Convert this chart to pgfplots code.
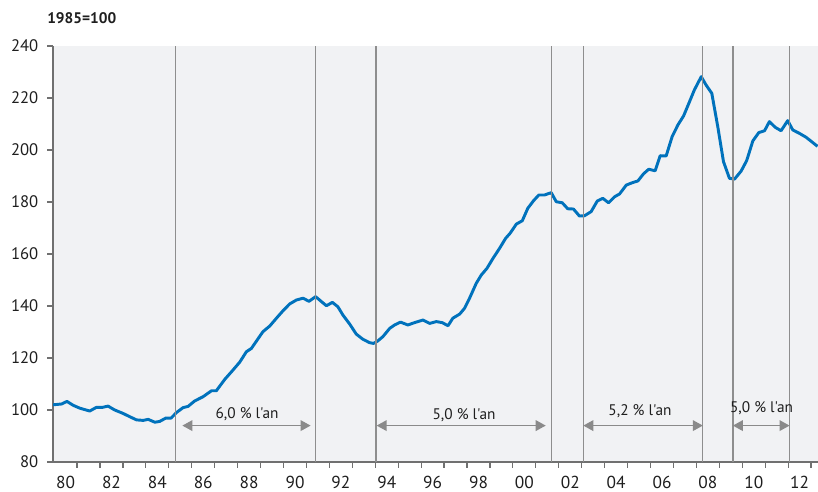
\documentclass[border=0pt]{standalone}
\usepackage{fontspec}
\setmainfont{PT Sans}[Ligatures=TeXOff]
\usepackage{pgfplots}
\pgfplotsset{compat=1.18}
\usetikzlibrary{arrows.meta}
\definecolor{lineblue}{HTML}{0072BC}
\definecolor{bggray}{HTML}{F1F2F4}
\definecolor{axgray}{HTML}{707070}
\definecolor{vgray}{HTML}{8E8E8E}
\definecolor{agray}{HTML}{8A8A8A}
\definecolor{txt}{HTML}{1E1E1E}

\pgfplotstableread{
year value
1979.95 102.0
1980.32 102.3
1980.56 103.3
1980.83 101.8
1981.12 100.7
1981.55 99.6
1981.84 101.0
1982.10 101.0
1982.35 101.5
1982.64 100.0
1983.00 98.7
1983.30 97.4
1983.59 96.2
1983.88 96.0
1984.10 96.4
1984.39 95.3
1984.60 95.6
1984.87 96.9
1985.10 96.9
1985.33 99.0
1985.62 100.9
1985.84 101.4
1986.13 103.5
1986.49 105.1
1986.86 107.4
1987.07 107.4
1987.44 111.8
1987.80 115.4
1988.09 118.4
1988.38 122.4
1988.60 123.7
1989.10 130.1
1989.40 132.3
1989.69 135.3
1989.98 138.2
1990.27 140.8
1990.56 142.3
1990.85 143.0
1991.11 141.8
1991.40 143.6
1991.65 141.7
1991.87 140.1
1992.13 141.4
1992.37 139.7
1992.59 136.5
1992.88 133.1
1993.17 129.2
1993.46 127.2
1993.75 125.9
1993.92 125.6
1994.10 126.5
1994.33 128.2
1994.63 131.4
1994.84 132.7
1995.10 133.8
1995.42 132.7
1995.71 133.6
1996.08 134.6
1996.37 133.3
1996.66 134.0
1996.92 133.6
1997.17 132.4
1997.38 135.3
1997.68 136.9
1997.89 139.1
1998.11 143.0
1998.40 148.7
1998.62 151.9
1998.87 154.5
1999.13 158.3
1999.42 162.2
1999.68 166.0
1999.88 168.0
2000.15 171.5
2000.41 172.8
2000.65 177.6
2000.90 180.5
2001.13 182.7
2001.38 182.7
2001.67 183.6
2001.89 180.1
2002.15 179.7
2002.39 177.4
2002.64 177.3
2002.90 174.6
2003.12 174.7
2003.41 176.3
2003.68 180.4
2003.92 181.4
2004.17 179.7
2004.43 182.0
2004.65 183.1
2004.94 186.5
2005.20 187.4
2005.45 188.1
2005.69 190.8
2005.92 192.6
2006.20 192.0
2006.42 197.8
2006.68 197.7
2006.94 205.1
2007.19 209.6
2007.44 213.1
2007.70 218.6
2007.91 223.1
2008.21 228.2
2008.42 225.0
2008.67 221.8
2008.93 209.0
2009.18 195.5
2009.44 189.1
2009.66 188.8
2009.95 191.9
2010.19 195.9
2010.46 203.5
2010.72 206.7
2010.97 207.4
2011.18 210.9
2011.44 208.7
2011.69 207.4
2011.98 211.3
2012.20 207.7
2012.49 206.4
2012.78 204.9
2013.28 201.4
}\housedata

\begin{document}
\begin{tikzpicture}[x=1pt,y=1pt]
\path[use as bounding box] (0,0) rectangle (613.5,369);
\begin{axis}[
    at={(39.75pt,22.5pt)}, anchor=south west,
    scale only axis, width=573.75pt, height=312pt,
    xmin=1979.95, xmax=2013.3, ymin=80, ymax=240,
    axis x line*=bottom, axis y line*=left,
    axis line style={draw=axgray, line width=1.3pt, -},
    axis background/.style={fill=bggray},
    ytick={80,100,...,240},
    xtick={1981,...,2013},
    xticklabels={},
    extra x ticks={1980.5,1982.5,...,2012.5},
    extra x tick labels={80,82,84,86,88,90,92,94,96,98,00,02,04,06,08,10,12},
    extra x tick style={major tick length=0pt},
    tick align=outside,
    major tick length=4.5pt,
    tick style={draw=axgray, line width=0.9pt},
    /pgf/number format/assume math mode=true,
    yticklabel style={font=\fontsize{12.5}{13}\selectfont, text=txt, xshift=-3pt},
    xticklabel style={font=\fontsize{13}{14}\selectfont, text=txt, yshift=-7pt},
  ]
  \addplot[lineblue, line width=2.2pt, line join=round, no marks] table[x=year, y=value] {\housedata};
  \pgfplotsinvokeforeach{1985.30,1991.38,1994.03,2001.69,2003.07,2008.28,2009.59,2012.06}{
    \draw[vgray, line width=0.9pt] (axis cs:#1,80) -- (axis cs:#1,240);
  }
  \draw[agray, line width=1pt, {Triangle[length=7.5pt,width=8pt]}-{Triangle[length=7.5pt,width=8pt]}] (axis cs:1985.59,94) -- (axis cs:1991.18,94);
  \draw[agray, line width=1pt, {Triangle[length=7.5pt,width=8pt]}-{Triangle[length=7.5pt,width=8pt]}] (axis cs:1994.06,94) -- (axis cs:2001.43,94);
  \draw[agray, line width=1pt, {Triangle[length=7.5pt,width=8pt]}-{Triangle[length=7.5pt,width=8pt]}] (axis cs:2003.07,94) -- (axis cs:2008.28,94);
  \draw[agray, line width=1pt, {Triangle[length=7.5pt,width=8pt]}-{Triangle[length=7.5pt,width=8pt]}] (axis cs:2009.59,94) -- (axis cs:2012.06,94);
  \node[font=\fontsize{11.5}{12}\selectfont, text=txt] at (axis cs:1988.41,98.5) {6,0 \% l'an};
  \node[font=\fontsize{11.5}{12}\selectfont, text=txt] at (axis cs:1997.87,98.1) {5,0 \% l'an};
  \node[font=\fontsize{11.5}{12}\selectfont, text=txt] at (axis cs:2005.54,99.6) {5,2 \% l'an};
  \node[font=\fontsize{11.5}{12}\selectfont, text=txt] at (axis cs:2010.84,100.8) {5,0 \% l'an};
\end{axis}
\node[anchor=west, inner sep=0pt, font=\bfseries\fontsize{11.5}{12}\selectfont, text=txt] at (35.25,355.5) {1985=100};
\end{tikzpicture}
\end{document}
